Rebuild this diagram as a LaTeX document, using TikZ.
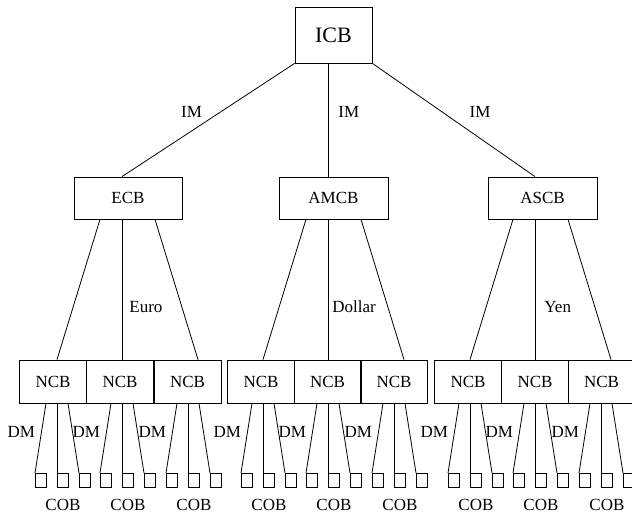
\documentclass[tikz,border=0pt]{standalone}
\usepackage{fontspec}
\setmainfont{Liberation Serif}
\usetikzlibrary{positioning, calc}

\begin{document}
\begin{tikzpicture}[x=1pt, y=-1pt, font=\fontsize{17}{20}\selectfont]

% Define styles
\tikzstyle{bank} = [rectangle, draw=black, line width=0.8pt, inner sep=0pt, minimum height=42pt]
\tikzstyle{ncb} = [bank, minimum width=67pt, minimum height=43pt]
\tikzstyle{cob} = [rectangle, draw=black, line width=0.8pt, inner sep=0pt,
    minimum width=11pt, minimum height=14pt, anchor=north west]
\tikzstyle{line} = [draw, line width=0.8pt]
\tikzstyle{tag} = [inner sep=2pt]

\useasboundingbox (0,0) rectangle (632,513);

% Place nodes
\node [bank, minimum width=77pt, minimum height=56pt, font=\fontsize{22}{26}\selectfont] (icb) at (333.5,35) {ICB};
\node [bank, minimum width=108pt] (ecb) at (128,198) {ECB};
\node [bank, minimum width=109pt] (amcb) at (333.5,198) {AMCB};
\node [bank, minimum width=109pt] (ascb) at (542.5,198) {ASCB};

% National banks and their commercial banks
\foreach \i/\x/\m in {1/53/57, 2/120/122, 3/187.5/188, 4/261/263, 5/327.5/328,
                      6/394/394, 7/468/470, 8/535/535, 9/601.5/601} {
  \node [ncb] (ncb\i) at (\x,381.5) {NCB};
  \node [cob] (cob\i a) at (\m-22,473) {};
  \node [cob] (cob\i b) at (\m,473) {};
  \node [cob] (cob\i c) at (\m+22,473) {};
  \node [tag, below=9pt of cob\i b] (coblabel\i) {COB};
  \path [line] ($(ncb\i.south -| cob\i b.north west)+(-11,0)$) -- node[tag, pos=0.414, left=4pt] {DM} (cob\i a.north west);
  \path [line] (ncb\i.south -| cob\i b.north west) -- (cob\i b.north west);
  \path [line] ($(ncb\i.south -| cob\i b.north west)+(11,0)$) -- (cob\i c.north west);
}

% Draw edges
\path [line] (icb.south west) -- node[tag, pos=0.43, left=16pt] {IM} (ecb.north -| cob2b.north west);
\path [line] (icb.south -| cob5b.north west) -- node[tag, pos=0.43, right=8pt] {IM} (amcb.north -| cob5b.north west);
\path [line] (icb.south east) -- node[tag, pos=0.43, right=25pt] {IM} (ascb.north -| cob8b.north west);

\foreach \top/\a/\b/\c/\cur/\gap in {ecb/1/2/3/Euro/5pt, amcb/4/5/6/Dollar/2pt, ascb/7/8/9/Yen/7pt} {
  \path [line] ($(\top.south -| cob\b b.north west)+(-22,0)$) -- (ncb\a.north -| cob\a b.north west);
  \path [line] (\top.south -| cob\b b.north west) -- node[tag, pos=0.624, right=\gap] {\cur} (ncb\b.north -| cob\b b.north west);
  \path [line] ($(\top.south -| cob\b b.north west)+(33,0)$) -- ($(ncb\c.north -| cob\c b.north west)+(10,0)$);
}

\end{tikzpicture}
\end{document}
